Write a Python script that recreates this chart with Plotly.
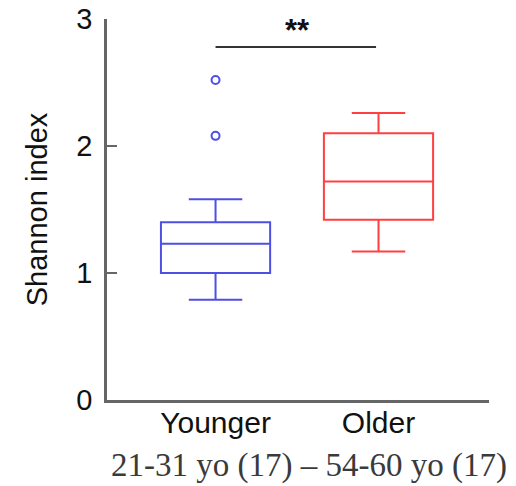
import plotly.graph_objects as go

# Data
groups = ["Younger", "Older"]
group_pos = [0, 1]
q1 = [1.00, 1.42]
median = [1.23, 1.72]
q3 = [1.40, 2.10]
lowerfence = [0.79, 1.17]
upperfence = [1.58, 2.26]
outliers_younger = [2.52, 2.08]
colors = ["#4f4fe4", "#ff4040"]
sig_label = "<b>**</b>"
sig_y = 2.78
y_ticks = [0, 1, 2, 3]
bottom_note = "21-31 yo (17) \u2013 54-60 yo (17)"

fig = go.Figure()
for i in range(len(groups)):
    fig.add_trace(go.Box(
        x=[group_pos[i]], q1=[q1[i]], median=[median[i]], q3=[q3[i]],
        lowerfence=[lowerfence[i]], upperfence=[upperfence[i]],
        name=groups[i], width=0.67, whiskerwidth=0.49,
        line=dict(color=colors[i], width=2),
        fillcolor="rgba(255,255,255,0)",
        boxpoints=False, showlegend=False, hoverinfo="skip",
    ))

fig.add_trace(go.Scatter(
    x=[group_pos[0]] * len(outliers_younger), y=outliers_younger,
    mode="markers",
    marker=dict(symbol="circle-open", size=8, color=colors[0], line=dict(width=2, color=colors[0])),
    showlegend=False, hoverinfo="skip",
))

# significance bar
fig.add_trace(go.Scatter(
    x=[group_pos[0], group_pos[1] - 0.015], y=[sig_y, sig_y],
    mode="lines", line=dict(color="#333333", width=2),
    showlegend=False, hoverinfo="skip",
))
fig.add_annotation(
    x=0.5, y=2.91, xref="x", yref="y", text=sig_label, showarrow=False,
    font=dict(family="Liberation Sans", size=31, color="#111111"),
    xanchor="center", yanchor="middle",
)

fig.add_annotation(
    x=0.529, y=-0.171, xref="paper", yref="paper", text=bottom_note, showarrow=False,
    font=dict(family="Liberation Serif", size=33, color="#3a3a3a"),
    xanchor="center", yanchor="middle",
)

# page body adds an 8px offset; compensate in size and margins
fig.update_layout(
    width=508, height=478,
    margin=dict(l=99, r=27, t=11, b=86),
    paper_bgcolor="white", plot_bgcolor="white",
    font=dict(family="Liberation Sans", size=28, color="#111111"),
    xaxis=dict(
        range=[-0.666, 1.678], tickvals=group_pos, ticktext=groups,
        showline=True, linecolor="#666666", linewidth=2.5,
        ticks="", showgrid=False, zeroline=False, automargin=False,
        tickfont=dict(size=30), ticklabelstandoff=-6,
    ),
    yaxis=dict(
        range=[0, 3], tickvals=y_ticks,
        showline=True, linecolor="#666666", linewidth=2.5,
        ticks="inside", ticklen=10, tickwidth=2, tickcolor="#666666",
        showgrid=False, zeroline=False, ticklabelstandoff=6, automargin=False,
        ticklabeloverflow="allow",
        tickfont=dict(size=29),
        title=dict(text="Shannon index", font=dict(size=29), standoff=21),
    ),
)

fig.write_html("out.html")
